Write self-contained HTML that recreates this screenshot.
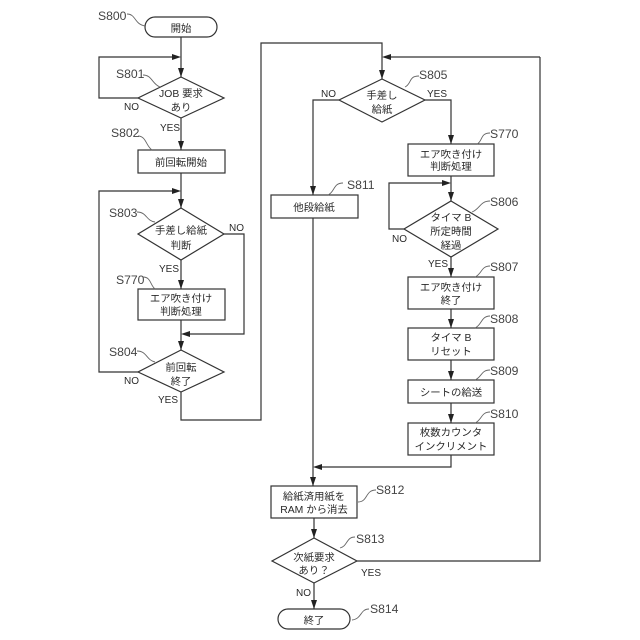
<!DOCTYPE html>
<html><head><meta charset="utf-8">
<style>
html,body{margin:0;padding:0;background:#fff;width:640px;height:640px;overflow:hidden}
svg{display:block}
text{font-family:"Liberation Sans","Noto Sans CJK JP",sans-serif;fill:#2a2a2a}
.l{font-size:12.2px}
.l text{fill:#444}
.t{font-size:10.4px;text-anchor:middle}
.y{font-size:10px}
.s{fill:#fff;stroke:#333;stroke-width:1.2}
.c{fill:none;stroke:#333;stroke-width:1.2}
.q{fill:none;stroke:#666;stroke-width:.9}
.a{fill:#222}
</style></head><body>
<svg width="640" height="640" viewBox="0 0 640 640" xmlns="http://www.w3.org/2000/svg">
<path class="c" d="M181 37V77M138 98H99V57H178M181 118V150M181 173V208M138 372H99V191H178M181 260V289M181 320V350M224 234H244V334H184M181 392V420H261V43H382V79M540 57H385M540 57V561H357M339 100H313V195M425 100H451V144M451 176V201M404 229H389V183H448M451 257V277M451 309V328M451 360V380M451 403V423M451 455V467H316M313 218V486M314 518V538M314 583V609"/>
<g class="a">
<path d="M181 77l-3-9h6zM181 57l-9-3v6zM181 150l-3-9h6zM181 191l-9-3v6zM181 208l-3-9h6zM181 289l-3-9h6zM181 350l-3-9h6zM181 334l9-3v6z"/>
<path d="M382 79l-3-9h6zM382 57l9-3v6zM313 195l-3-9h6zM451 144l-3-9h6zM451 183l-9-3v6zM451 201l-3-9h6zM451 277l-3-9h6zM451 328l-3-9h6zM451 380l-3-9h6zM451 423l-3-9h6zM313 467l9-3v6zM313 486l-3-9h6zM314 538l-3-9h6zM314 609l-3-9h6z"/>
</g>
<rect class="s" x="145" y="17" width="72" height="20" rx="10"/>
<path class="s" d="M181 77L224 98L181 118L138 98Z"/>
<rect class="s" x="138" y="150" width="87" height="23"/>
<path class="s" d="M181 208L224 234L181 260L138 234Z"/>
<rect class="s" x="138" y="289" width="87" height="31"/>
<path class="s" d="M181 350L224 372L181 392L138 372Z"/>
<path class="s" d="M382 79L425 100L382 122L339 100Z"/>
<rect class="s" x="408" y="144" width="86" height="32"/>
<rect class="s" x="271" y="195" width="87" height="23"/>
<path class="s" d="M451 201L498 229L451 257L404 229Z"/>
<rect class="s" x="408" y="277" width="86" height="32"/>
<rect class="s" x="408" y="328" width="86" height="32"/>
<rect class="s" x="408" y="380" width="86" height="23"/>
<rect class="s" x="408" y="423" width="86" height="32"/>
<rect class="s" x="271" y="486" width="86" height="32"/>
<path class="s" d="M314 538L357 561L314 583L272 561Z"/>
<rect class="s" x="278" y="609" width="72" height="20" rx="10"/>
<g class="q">
<path d="M127 14C136 14 134 24 145 26M143 75C152 75 152 84 160 87M138 136C146 136 146 146 152 150M137 212C147 212 146 221 155 222M143 277C151 277 150 285 155 289M137 351C147 351 146 360 155 362"/>
<path d="M419 76C408 76 412 84 405 87M490 133C480 133 483 141 477 144M343 183C333 183 335 192 328 195M490 201C480 201 480 209 472 212M490 266C481 266 482 274 475 277M490 316C481 316 482 325 475 328M490 370C481 370 482 377 475 380M490 412C481 412 482 420 475 423"/>
<path d="M376 490C365 490 368 502 358 502M355 537C346 537 348 546 340 548M369 609C360 609 362 619 352 620"/>
</g>
<g class="l">
<text x="98" y="20">S800</text><text x="116" y="78">S801</text><text x="111" y="137">S802</text><text x="109" y="217">S803</text><text x="116" y="284">S770</text><text x="109" y="356">S804</text>
<text x="419" y="79">S805</text><text x="490" y="138">S770</text><text x="347" y="189">S811</text><text x="490" y="206">S806</text><text x="490" y="271">S807</text><text x="490" y="323">S808</text><text x="490" y="375">S809</text><text x="490" y="418">S810</text>
<text x="376" y="494">S812</text><text x="356" y="543">S813</text><text x="370" y="613">S814</text>
</g>
<g class="t">
<text x="181" y="32">開始</text>
<text x="181" y="97">JOB 要求</text><text x="181" y="111">あり</text>
<text x="181" y="166">前回転開始</text>
<text x="181" y="234">手差し給紙</text><text x="181" y="249">判断</text>
<text x="181" y="302">エア吹き付け</text><text x="181" y="315">判断処理</text>
<text x="181" y="371">前回転</text><text x="181" y="385">終了</text>
<text x="382" y="99">手差し</text><text x="382" y="113">給紙</text>
<text x="451" y="158">エア吹き付け</text><text x="451" y="170">判断処理</text>
<text x="314" y="211">他段給紙</text>
<text x="451" y="221">タイマ B</text><text x="451" y="235">所定時間</text><text x="451" y="249">経過</text>
<text x="451" y="291">エア吹き付け</text><text x="451" y="304">終了</text>
<text x="451" y="341">タイマ B</text><text x="451" y="355">リセット</text>
<text x="451" y="396">シートの給送</text>
<text x="451" y="436">枚数カウンタ</text><text x="451" y="450">インクリメント</text>
<text x="314" y="500">給紙済用紙を</text><text x="314" y="513">RAM から消去</text>
<text x="314" y="561">次紙要求</text><text x="314" y="574">あり？</text>
<text x="314" y="624">終了</text>
</g>
<g class="y">
<text x="124" y="110">NO</text><text x="160" y="131">YES</text>
<text x="229" y="231">NO</text><text x="159" y="272">YES</text>
<text x="124" y="384">NO</text><text x="158" y="403">YES</text>
<text x="321" y="97">NO</text><text x="427" y="97">YES</text>
<text x="392" y="242">NO</text><text x="428" y="267">YES</text>
<text x="361" y="576">YES</text><text x="296" y="596">NO</text>
</g>
</svg>
</body></html>
